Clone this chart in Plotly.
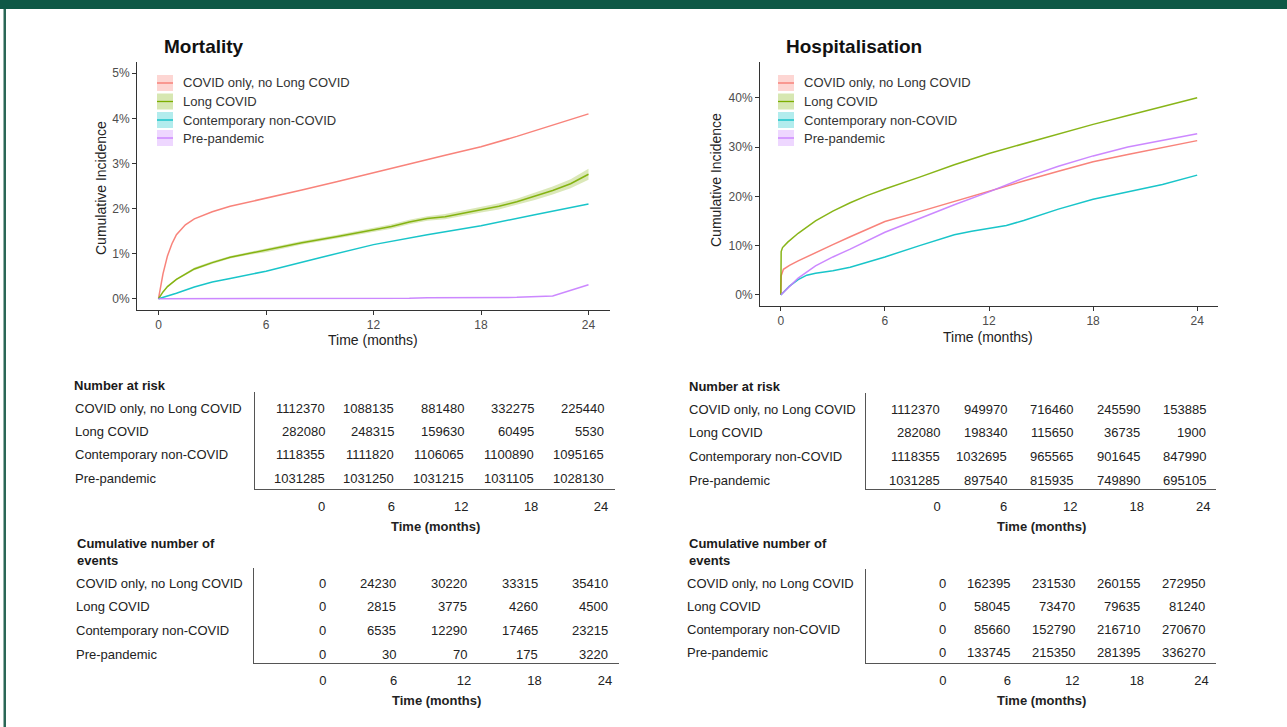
import plotly.graph_objects as go

W, H = 1287, 727
FONT = "Liberation Sans, Arial, sans-serif"

# ---------------- data ----------------
groups = ["COVID only, no Long COVID", "Long COVID", "Contemporary non-COVID", "Pre-pandemic"]
colors = ["#F8766D", "#7CAE00", "#00BFC4", "#C77CFF"]
fills = ["rgba(248,118,109,0.30)", "rgba(124,174,0,0.30)", "rgba(0,191,196,0.30)", "rgba(199,124,255,0.30)"]
time_ticks = [0, 6, 12, 18, 24]

# Mortality cumulative incidence (%)
mort_covid_t = [0, 0.25, 0.5, 0.75, 1, 1.5, 2, 3, 4, 5, 6, 8, 10, 12, 14, 16, 18, 20, 22, 24]
mort_covid_y = [0, 0.55, 0.95, 1.22, 1.42, 1.64, 1.77, 1.93, 2.05, 2.14, 2.22, 2.41, 2.6, 2.8, 2.99, 3.18, 3.37, 3.6, 3.85, 4.1]
mort_long_t = [0, 0.25, 0.5, 1, 2, 3, 4, 5, 6, 8, 10, 12, 13, 14, 15, 16, 17, 18, 19, 20, 21, 22, 23, 24]
mort_long_y = [0, 0.15, 0.27, 0.43, 0.66, 0.8, 0.92, 1.0, 1.07, 1.24, 1.38, 1.53, 1.6, 1.7, 1.78, 1.82, 1.9, 1.97, 2.05, 2.15, 2.27, 2.4, 2.55, 2.76]
mort_long_lo = [0, 0.14, 0.25, 0.41, 0.63, 0.77, 0.89, 0.97, 1.03, 1.20, 1.34, 1.48, 1.55, 1.65, 1.73, 1.76, 1.84, 1.91, 1.98, 2.08, 2.19, 2.31, 2.45, 2.64]
mort_long_hi = [0, 0.16, 0.29, 0.45, 0.69, 0.83, 0.95, 1.03, 1.11, 1.28, 1.42, 1.58, 1.65, 1.75, 1.83, 1.88, 1.96, 2.03, 2.12, 2.22, 2.35, 2.49, 2.65, 2.88]
mort_contemp_t = [0, 1, 2, 3, 4, 6, 9, 12, 15, 18, 21, 24]
mort_contemp_y = [0, 0.12, 0.26, 0.37, 0.45, 0.61, 0.91, 1.2, 1.42, 1.62, 1.86, 2.1]
mort_pre_t = [0, 6, 12, 14, 15, 20, 22, 24]
mort_pre_y = [0, 0, 0, 0.01, 0.02, 0.03, 0.06, 0.31]

# Hospitalisation cumulative incidence (%)
hosp_covid_t = [0, 0.02, 0.15, 0.5, 1, 2, 3, 4, 5, 6, 8, 10, 12, 14, 16, 18, 20, 22, 24]
hosp_covid_y = [0, 3.9, 5.2, 6.0, 6.9, 8.6, 10.2, 11.8, 13.4, 14.9, 16.9, 19.0, 21.0, 23.1, 25.1, 27.0, 28.5, 29.9, 31.3]
hosp_long_t = [0, 0.02, 0.1, 0.4, 1, 2, 3, 4, 5, 6, 8, 10, 12, 14, 16, 18, 20, 22, 24]
hosp_long_y = [0, 8.8, 9.6, 10.7, 12.5, 15.0, 17.0, 18.7, 20.2, 21.5, 23.9, 26.4, 28.7, 30.7, 32.6, 34.6, 36.4, 38.2, 40.0]
hosp_contemp_t = [0, 0.5, 1, 1.5, 2, 3, 4, 5, 6, 8, 10, 11, 12, 13, 14, 16, 18, 20, 22, 24]
hosp_contemp_y = [0, 1.8, 3.1, 4.0, 4.4, 4.9, 5.6, 6.6, 7.7, 10.0, 12.2, 12.9, 13.5, 14.1, 15.1, 17.4, 19.4, 20.9, 22.4, 24.3]
hosp_pre_t = [0, 0.5, 1, 2, 3, 4, 5, 6, 8, 10, 12, 14, 16, 18, 20, 22, 24]
hosp_pre_y = [0, 1.8, 3.4, 5.9, 7.7, 9.3, 11.0, 12.7, 15.5, 18.3, 20.9, 23.7, 26.1, 28.2, 30.0, 31.4, 32.7]

mort_yticks = [0, 1, 2, 3, 4, 5]
mort_yticktext = ["0%", "1%", "2%", "3%", "4%", "5%"]
hosp_yticks = [0, 10, 20, 30, 40]
hosp_yticktext = ["0%", "10%", "20%", "30%", "40%"]

# Risk tables
mort_at_risk = [
    [1112370, 1088135, 881480, 332275, 225440],
    [282080, 248315, 159630, 60495, 5530],
    [1118355, 1111820, 1106065, 1100890, 1095165],
    [1031285, 1031250, 1031215, 1031105, 1028130],
]
mort_events = [
    [0, 24230, 30220, 33315, 35410],
    [0, 2815, 3775, 4260, 4500],
    [0, 6535, 12290, 17465, 23215],
    [0, 30, 70, 175, 3220],
]
hosp_at_risk = [
    [1112370, 949970, 716460, 245590, 153885],
    [282080, 198340, 115650, 36735, 1900],
    [1118355, 1032695, 965565, 901645, 847990],
    [1031285, 897540, 815935, 749890, 695105],
]
hosp_events = [
    [0, 162395, 231530, 260155, 272950],
    [0, 58045, 73470, 79635, 81240],
    [0, 85660, 152790, 216710, 270670],
    [0, 133745, 215350, 281395, 336270],
]


# ---------------- helpers ----------------
def PX(x):
    return x / W


def PY(y):
    return 1 - y / H


fig = go.Figure()

mort_series = [(mort_covid_t, mort_covid_y), (mort_long_t, mort_long_y),
               (mort_contemp_t, mort_contemp_y), (mort_pre_t, mort_pre_y)]
hosp_series = [(hosp_covid_t, hosp_covid_y), (hosp_long_t, hosp_long_y),
               (hosp_contemp_t, hosp_contemp_y), (hosp_pre_t, hosp_pre_y)]

# ribbon for Long COVID mortality
fig.add_trace(go.Scatter(x=mort_long_t, y=mort_long_hi, mode="lines", line=dict(width=0),
                         xaxis="x", yaxis="y", showlegend=False, hoverinfo="skip"))
fig.add_trace(go.Scatter(x=mort_long_t, y=mort_long_lo, mode="lines", line=dict(width=0),
                         fill="tonexty", fillcolor="rgba(124,174,0,0.28)",
                         xaxis="x", yaxis="y", showlegend=False, hoverinfo="skip"))

for i, (t, v) in enumerate(mort_series):
    fig.add_trace(go.Scatter(x=t, y=v, mode="lines", name=groups[i],
                             line=dict(color=colors[i], width=1.5), opacity=0.9,
                             xaxis="x", yaxis="y", showlegend=False))
for i, (t, v) in enumerate(hosp_series):
    fig.add_trace(go.Scatter(x=t, y=v, mode="lines", name=groups[i],
                             line=dict(color=colors[i], width=1.5), opacity=0.9,
                             xaxis="x2", yaxis="y2", showlegend=False))

tickfont = dict(family=FONT, size=12, color="#4D4D4D")
axis_common = dict(showline=True, linecolor="#333333", linewidth=1, ticks="outside",
                   ticklen=4, tickcolor="#333333", tickwidth=1, showgrid=False,
                   zeroline=False, tickfont=tickfont, automargin=False, fixedrange=True)

layout = dict(
    width=W, height=H, margin=dict(l=0, r=0, t=0, b=0, pad=0),
    paper_bgcolor="white", plot_bgcolor="white", showlegend=False,
    font=dict(family=FONT, color="#222222"),
    xaxis=dict(domain=[PX(137), PX(610)], range=[-1.2, 25.2], tickvals=time_ticks,
               anchor="y", **axis_common),
    yaxis=dict(domain=[PY(310), PY(62)], range=[-0.25, 5.25], tickvals=mort_yticks,
               ticktext=mort_yticktext, anchor="x", **axis_common),
    xaxis2=dict(domain=[PX(760), PX(1218)], range=[-1.2, 25.2], tickvals=time_ticks,
                anchor="y2", **axis_common),
    yaxis2=dict(domain=[PY(306), PY(62)], range=[-2.25, 47.25], tickvals=hosp_yticks,
                ticktext=hosp_yticktext, anchor="x2", **axis_common),
)

# table axes: (xid, yid, x-domain px, x-range, y-domain px, y-range)
tables = [
    ("x3", "y3", (255, 615), (-5.73, 25.21), (392, 489), (3.47, -0.686), mort_at_risk, 72.5),
    ("x4", "y4", (254, 619), (-5.87, 25.19), (568, 663), (3.38, -0.634), mort_events, 74),
    ("x5", "y5", (866, 1216), (-6.4, 25.14), (393, 489), (3.38, -0.676), hosp_at_risk, 687),
    ("x6", "y6", (866, 1216), (-7.12, 25.34), (569, 663), (3.43, -0.60), hosp_events, 685),
]
tab_line = dict(showline=True, linecolor="#555555", linewidth=1.3, showgrid=False,
                zeroline=False, automargin=False, fixedrange=True)

annotations = []
for xid, yid, xd, xr, yd, yr, vals, labx in tables:
    n = xid[1:]
    layout["xaxis" + n] = dict(domain=[PX(xd[0]), PX(xd[1])], range=list(xr), anchor=yid,
                               tickvals=time_ticks, ticks="outside", ticklen=5,
                               tickcolor="rgba(0,0,0,0)",
                               tickfont=dict(family=FONT, size=13, color="#222222"), **tab_line)
    layout["yaxis" + n] = dict(domain=[PY(yd[1]), PY(yd[0])], range=list(yr), anchor=xid,
                               showticklabels=False, ticks="", **tab_line)
    for r, row in enumerate(vals):
        annotations.append(dict(x=PX(labx), y=r, xref="paper", yref=yid, text=groups[r],
                                showarrow=False, xanchor="left", yanchor="middle",
                                font=dict(family=FONT, size=13, color="#222222")))
        for c, v in enumerate(row):
            annotations.append(dict(x=time_ticks[c], y=r, xref=xid, yref=yid, text=str(v),
                                    showarrow=False, xanchor="right", yanchor="middle", xshift=5,
                                    font=dict(family=FONT, size=13, color="#222222")))
    # "Time (months)" table title
    annotations.append(dict(x=PX((xd[0] + xd[1]) / 2), y=PY(yd[1] + 37), xref="paper", yref="paper",
                            text="<b>Time (months)</b>", showarrow=False,
                            xanchor="center", yanchor="middle",
                            font=dict(family=FONT, size=13, color="#222222")))

# table headers
for x0, y0, txt in [(72, 385, "<b>Number at risk</b>"), (687, 386, "<b>Number at risk</b>"),
                    (75, 552, "<b>Cumulative number of<br>events</b>"),
                    (687, 552, "<b>Cumulative number of<br>events</b>")]:
    annotations.append(dict(x=PX(x0), y=PY(y0), xref="paper", yref="paper", text=txt,
                            showarrow=False, xanchor="left", yanchor="middle", align="left",
                            font=dict(family=FONT, size=13, color="#1a1a1a")))

# panel titles
annotations.append(dict(x=PX(162), y=PY(47), xref="paper", yref="paper", text="<b>Mortality</b>",
                        showarrow=False, xanchor="left", yanchor="middle",
                        font=dict(family=FONT, size=19, color="#111111")))
annotations.append(dict(x=PX(784), y=PY(47), xref="paper", yref="paper", text="<b>Hospitalisation</b>",
                        showarrow=False, xanchor="left", yanchor="middle",
                        font=dict(family=FONT, size=19, color="#111111")))

# axis titles
for xc, yc in [(373, 340), (988, 337)]:
    annotations.append(dict(x=PX(xc), y=PY(yc), xref="paper", yref="paper", text="Time (months)",
                            showarrow=False, xanchor="center", yanchor="middle",
                            font=dict(family=FONT, size=14, color="#222222")))
for xc, yc in [(101, 188), (716, 180)]:
    annotations.append(dict(x=PX(xc), y=PY(yc), xref="paper", yref="paper", text="Cumulative Incidence",
                            showarrow=False, xanchor="center", yanchor="middle", textangle=-90,
                            font=dict(family=FONT, size=14, color="#222222")))

# legends (custom keys)
shapes = []
leg_rows = [83, 101.5, 120, 138]
for kx, tx in [(157, 181), (778, 802)]:
    for i, ry in enumerate(leg_rows):
        shapes.append(dict(type="rect", xref="paper", yref="paper", x0=PX(kx), x1=PX(kx + 16),
                           y0=PY(ry + 8), y1=PY(ry - 8), fillcolor=fills[i], line=dict(width=0), layer="below"))
        shapes.append(dict(type="line", xref="paper", yref="paper", x0=PX(kx), x1=PX(kx + 16),
                           y0=PY(ry), y1=PY(ry), line=dict(color=colors[i], width=1.3)))
        annotations.append(dict(x=PX(tx), y=PY(ry), xref="paper", yref="paper", text=groups[i],
                                showarrow=False, xanchor="left", yanchor="middle",
                                font=dict(family=FONT, size=13, color="#333333")))

# frame
shapes.append(dict(type="rect", xref="paper", yref="paper", x0=0, x1=1, y0=PY(9), y1=1,
                   fillcolor="#0F5846", line=dict(width=0)))
shapes.append(dict(type="rect", xref="paper", yref="paper", x0=PX(3.5), x1=PX(6), y0=0, y1=PY(9),
                   fillcolor="#2A6756", line=dict(width=0)))

layout["annotations"] = annotations
layout["shapes"] = shapes
fig.update_layout(**layout)

fig.write_html("out.html", config={"displayModeBar": False},
               post_script="document.body.style.margin='0';document.body.style.overflow='hidden';")
